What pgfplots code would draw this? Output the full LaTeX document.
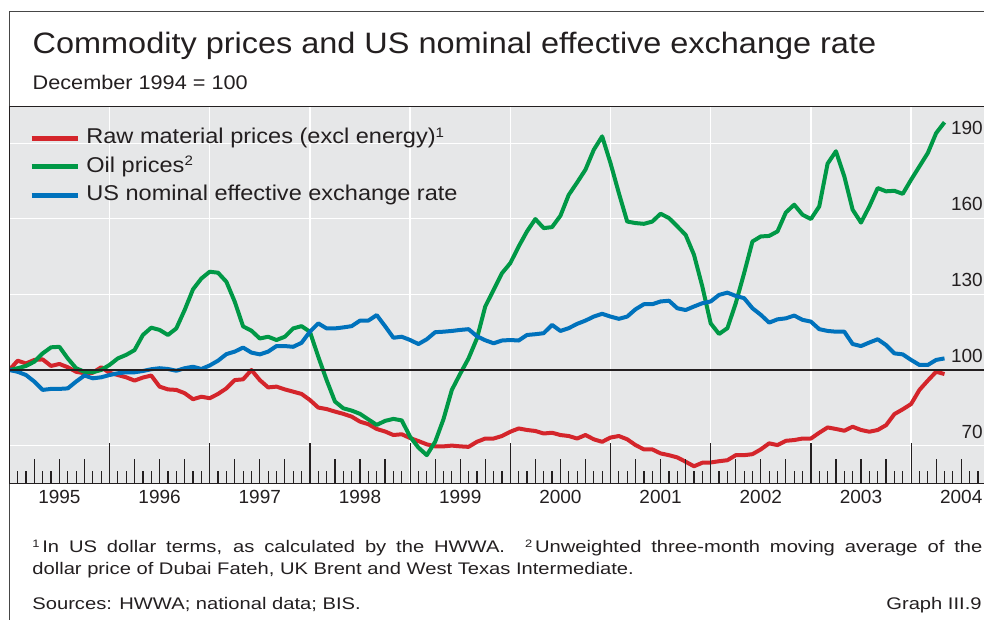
\documentclass[border=0pt]{standalone}
\usepackage{graphicx}
\usepackage{pgfplots}
\usepackage{pgfplotstable}
\pgfplotsset{compat=1.18}
\usepackage{fontspec}
\setmainfont{Liberation Sans}
\newfontfamily\widefont{Liberation Sans}[FakeStretch=1.1]
\newfontfamily\notefont{Liberation Sans}[FakeStretch=1.2]
\definecolor{bisred}{RGB}{212,37,43}
\definecolor{bisgreen}{RGB}{0,152,70}
\definecolor{bisblue}{RGB}{0,114,188}
\definecolor{bisgrey}{RGB}{230,231,232}
\definecolor{bisblack}{RGB}{35,31,32}
\definecolor{frame}{RGB}{70,70,70}
\newcommand{\fnsup}[1]{\raisebox{0.3em}{\scalebox{0.64}{#1}}}

\pgfplotstableread{
k raw oil usd
0 100 100 100
1 103.7 100.7 99.3
2 102.6 101.6 98
3 104 103.3 95.4
4 104.2 106.6 92.1
5 101.6 109 92.5
6 102.4 109.2 92.5
7 101.1 104.6 92.7
8 99.3 100.7 95.4
9 98.7 99.3 97.8
10 98.9 99.1 96.7
11 101.1 100 97.1
12 98.9 102 98
13 98 104.6 98.7
14 97.1 106 99.1
15 95.8 107.9 99.1
16 97 113.9 99.6
17 97.8 116.8 100.3
18 93.4 115.9 100.7
19 92.3 113.9 100.4
20 92.1 116.5 99.7
21 90.8 123.8 100.7
22 88.4 132 101.3
23 89.4 136.3 100.4
24 88.8 139 101.8
25 90.5 138.6 103.7
26 92.7 135 106.3
27 96 127.1 107.3
28 96.3 117.3 108.9
29 100 115.6 106.9
30 96 112.5 106.2
31 93.1 113.2 107.3
32 93.4 111.9 109.5
33 92.3 113.2 109.5
34 91.4 116.5 109.2
35 90.5 117.4 110.8
36 88.1 115.2 115.2
37 85.1 105.3 118.5
38 84.5 96 116.5
39 83.5 87.5 116.5
40 82.6 84.8 116.9
41 81.5 83.9 117.4
42 79.5 82.6 119.6
43 78.5 80.4 119.6
44 76.6 78.2 121.8
45 75.6 79.8 117.4
46 74.2 80.6 112.8
47 74.5 80 113.2
48 73 73.5 111.9
49 71.8 69.2 110.3
50 70.5 66.2 112.2
51 69.7 71.5 115
52 69.7 80.5 115.2
53 70 92.1 115.5
54 69.7 98.5 115.9
55 69.5 104.6 116.2
56 71.5 112.5 113.4
57 72.8 125.2 111.8
58 72.8 131.8 110.6
59 73.8 138.4 111.7
60 75.5 142.4 111.9
61 76.8 149 111.7
62 76.2 155 113.9
63 75.8 159.9 114.2
64 74.8 156.3 114.6
65 75.1 156.7 117.9
66 74.2 161.2 115.5
67 73.8 169.5 116.6
68 72.8 174.4 118.3
69 74.2 179.5 119.6
70 72.5 187.4 121.2
71 71.5 192.7 122.3
72 73.2 182.1 121.2
73 73.8 170.2 120.3
74 72.5 158.9 121.2
75 70.2 158.3 124.1
76 68.5 158 126.1
77 68.5 158.9 126.1
78 66.9 162 127.2
79 66.2 160.3 127.5
80 65.3 157 124.5
81 63.6 153.6 123.8
82 61.8 145.7 125.2
83 63.2 133.1 126.5
84 63.3 118.5 127.2
85 63.8 114.3 129.8
86 64.2 116.6 130.7
87 66.2 126.5 129.4
88 66.2 138.4 128.5
89 66.6 151 124.5
90 68.5 153 121.9
91 70.9 153.2 118.8
92 70.2 155 120.1
93 71.9 162.5 120.5
94 72.2 165.6 121.6
95 72.8 161.6 119.9
96 72.8 159.9 119.2
97 75.1 164.9 116.2
98 77.2 181.9 115.5
99 76.6 186.8 115.2
100 75.9 176.8 115.2
101 77.5 163.6 110.3
102 76.2 158.5 109.5
103 75.5 164.9 110.9
104 76.2 172.2 112.2
105 78.1 170.9 109.9
106 82.5 171.1 106.6
107 84.4 169.9 106.2
108 86.5 175.5 104
109 92.1 180.8 102
110 95.8 186.1 102
111 99.3 194 104
112 98.4 198.3 104.6
}\data

\begin{document}
\begin{tikzpicture}
\begin{axis}[
  set layers, axis on top,
  at={(4.65pt,-241.75pt)}, anchor=south west,
  scale only axis, width=490.35pt, height=188.5pt,
  xmin=0, xmax=117.45, ymin=54.96, ymax=204.56,
  axis background/.style={fill=bisgrey},
  axis line style={bisblack, line width=0.65pt},
  /pgf/number format/assume math mode=true,
  tick align=inside,
  xtick pos=bottom, ytick pos=right,
  xtick={3,6,9,15,18,21,27,30,33,39,42,45,51,54,57,63,66,69,75,78,81,87,90,93,99,102,105,111,114,117},
  xticklabels={{},1995,{},{},1996,{},{},1997,{},{},1998,{},{},1999,{},{},2000,{},{},2001,{},{},2002,{},{},2003,{},{},2004,{}},
  minor xtick={0,1,...,117},
  extra x ticks={12,24,36,48,60,72,84,96,108},
  extra x tick labels={},
  extra x tick style={grid=major, major tick length=20pt},
  major tick length=12pt, minor tick length=6.5pt,
  tick style={bisblack, line width=0.6pt},
  xticklabel style={font=\fontsize{9.5pt}{11pt}\selectfont, text=bisblack},
  ytick={70,100,130,160,190}, yticklabels={},
  ytick style={draw=none},
  ymajorgrids=true,
  major grid style={white, line width=0.65pt, /pgfplots/on layer=axis background},
  legend cell align=left,
  legend style={at={(0.0201,0.9414)}, anchor=north west, draw=none, fill=none,
    inner sep=0pt, outer sep=0pt,
    font=\widefont\fontsize{10.7pt}{12pt}\selectfont, text=bisblack,
    row sep=4.25pt,
    nodes={inner sep=0pt, text height=7.7pt, text depth=2.2pt},
    /tikz/every odd column/.append style={column sep=3.2pt}},
  legend image code/.code={\path (0pt,3.1pt); \draw[#1, line width=2.5pt] (0pt,0pt) -- (23pt,0pt);},
]
\addplot[bisred, line width=2pt, line join=round] table[x=k, y=raw]{\data};
\addlegendentry{Raw material prices (excl energy)\fnsup{1}}
\addplot[bisgreen, line width=2pt, line join=round] table[x=k, y=oil]{\data};
\addlegendentry{Oil prices\fnsup{2}}
\addplot[bisblue, line width=2pt, line join=round] table[x=k, y=usd]{\data};
\addlegendentry{US nominal effective exchange rate}
\addplot[bisblack, line width=0.65pt, forget plot] coordinates {(0,100) (117.45,100)};
\end{axis}
% frame
\draw[frame, line width=0.65pt] (4.65pt,-320pt) -- (4.65pt,-5.85pt) -- (500pt,-5.85pt);
% right-hand axis labels
\foreach \v/\b in {190/67.5, 160/105.35, 130/143.35, 100/181.15, 70/219.15}
  \node[anchor=base east, inner sep=0pt, text=bisblack, font=\fontsize{9.5pt}{11pt}\selectfont] at (491.6pt,-\b pt) {\v};
% titles
\node[anchor=base west, inner sep=0pt, text=bisblack, font=\widefont\fontsize{14.75pt}{17pt}\selectfont] at (16.15pt,-26.65pt) {Commodity prices and US nominal effective exchange rate};
\node[anchor=base west, inner sep=0pt, text=bisblack, font=\widefont\fontsize{9.85pt}{11pt}\selectfont] at (16.15pt,-44.65pt) {December 1994 = 100};
% footnotes
\node[anchor=base west, inner sep=0pt, text=bisblack, font=\notefont\fontsize{8.4pt}{10pt}\selectfont] at (16pt,-276.1pt) {\makebox[475pt][s]{\fnsup{1}\,In US dollar terms, as calculated by the HWWA.\hspace{0.6em} \fnsup{2}\,Unweighted three-month moving average of the}};
\node[anchor=base west, inner sep=0pt, text=bisblack, font=\notefont\fontsize{8.4pt}{10pt}\selectfont] at (16pt,-287.1pt) {dollar price of Dubai Fateh, UK Brent and West Texas Intermediate.};
\node[anchor=base west, inner sep=0pt, text=bisblack, font=\notefont\fontsize{8.4pt}{10pt}\selectfont] at (16pt,-304.6pt) {Sources: HWWA; national data; BIS.};
\node[anchor=base east, inner sep=0pt, text=bisblack, font=\notefont\fontsize{8.4pt}{10pt}\selectfont] at (491pt,-304.6pt) {Graph III.9};
\pgfresetboundingbox
\useasboundingbox (0pt,0pt) rectangle (492pt,-310pt);
\end{tikzpicture}
\end{document}
